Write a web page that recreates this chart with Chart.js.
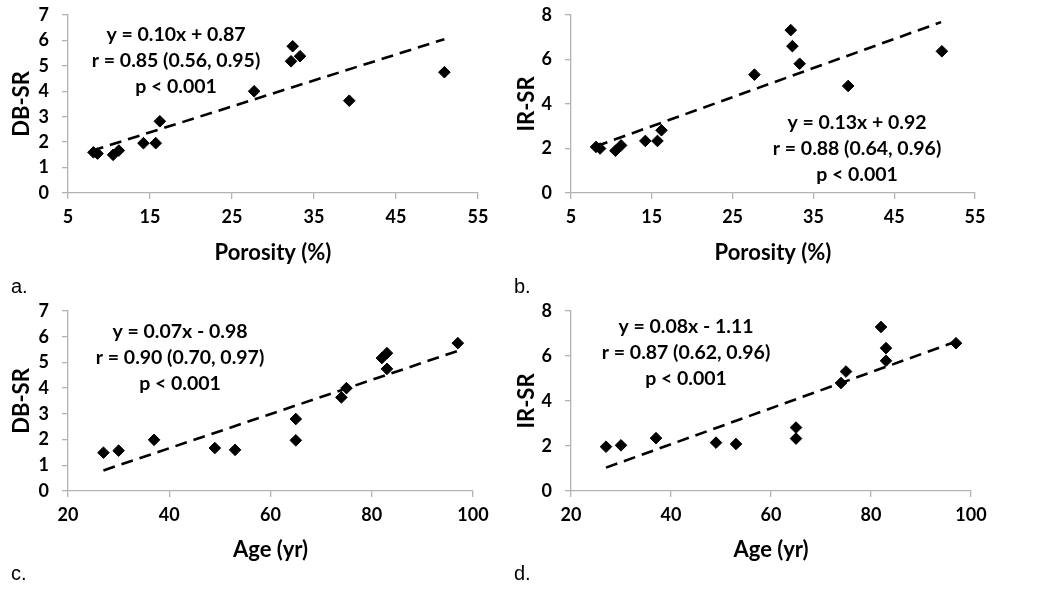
<!DOCTYPE html>
<html>
<head>
<meta charset="utf-8">
<script src="https://cdn.jsdelivr.net/npm/chart.js@4/dist/chart.umd.min.js"></script>
<style>
  html, body { margin: 0; padding: 0; background: #fff; width: 1050px; height: 597px; overflow: hidden; }
  .panel { position: absolute; }
  .lab { position: absolute; font-family: "Liberation Sans Narrow", "Liberation Sans", sans-serif; font-size: 20px; color: #000; }
</style>
</head>
<body>
<canvas id="ca" class="panel" style="left:0px;top:-15px;"></canvas>
<canvas id="cb" class="panel" style="left:505px;top:-15px;"></canvas>
<canvas id="cc" class="panel" style="left:0px;top:280px;"></canvas>
<canvas id="cd" class="panel" style="left:505px;top:280px;"></canvas>
<div class="lab" style="left:11px;top:275px;">a.</div>
<div class="lab" style="left:514px;top:275px;">b.</div>
<div class="lab" style="left:11px;top:562px;">c.</div>
<div class="lab" style="left:514px;top:562px;">d.</div>
<script>
// ---- data ----
const porosity = [8.1, 8.6, 10.5, 11.2, 14.2, 15.7, 16.2, 27.7, 32.2, 32.4, 33.3, 39.3, 50.9];
const dbsrByPorosity = [1.60, 1.55, 1.50, 1.67, 1.96, 1.96, 2.82, 4.00, 5.18, 5.77, 5.38, 3.63, 4.75];
const irsrByPorosity = [2.07, 2.00, 1.90, 2.14, 2.34, 2.34, 2.82, 5.32, 7.32, 6.60, 5.81, 4.81, 6.37];

const ageDB = [27, 30, 37, 49, 53, 65, 65, 74, 75, 82, 83, 83, 97];
const dbsrByAge = [1.49, 1.57, 1.99, 1.67, 1.60, 2.80, 1.97, 3.64, 4.00, 5.17, 5.36, 4.75, 5.75];
const ageIR = [27, 30, 37, 49, 53, 65, 65, 74, 75, 82, 83, 83, 97];
const irsrByAge = [1.97, 2.03, 2.35, 2.15, 2.09, 2.82, 2.33, 4.80, 5.31, 7.29, 6.35, 5.79, 6.57];

// trend line endpoints [x1, x2] and [y1, y2]
const trendAx = [7.9, 50.9], trendAy = [1.66, 6.05];
const trendBx = [8.1, 50.8], trendBy = [2.10, 7.68];
const trendCx = [27, 97],    trendCy = [0.80, 5.45];
const trendDx = [27, 96.5],  trendDy = [1.04, 6.60];

const annA = ["y = 0.10x + 0.87", "r = 0.85 (0.56, 0.95)", "p < 0.001"];
const annB = ["y = 0.13x + 0.92", "r = 0.88 (0.64, 0.96)", "p < 0.001"];
const annC = ["y = 0.07x - 0.98", "r = 0.90 (0.70, 0.97)", "p < 0.001"];
const annD = ["y = 0.08x - 1.11", "r = 0.87 (0.62, 0.96)", "p < 0.001"];

const FONT = "Lato, 'Open Sans', sans-serif";
const AXIS_COLOR = '#b3b3b3';

function pts(xs, ys) { return xs.map((x, i) => ({x: x, y: ys[i]})); }

function makePanel(id, cfg) {
  const canvas = document.getElementById(id);
  canvas.width = cfg.w; canvas.height = cfg.h;
  canvas.style.width = cfg.w + 'px'; canvas.style.height = cfg.h + 'px';
  const annPlugin = {
    id: 'ann' + id,
    afterDatasetsDraw(chart) {
      const ctx = chart.ctx;
      ctx.save();
      ctx.fillStyle = '#000';
      ctx.font = 'bold 19.5px ' + FONT;
      ctx.textAlign = 'center';
      ctx.textBaseline = 'middle';
      cfg.ann.forEach((t, i) => ctx.fillText(t, cfg.annX, cfg.annY + i * 25.7));
      ctx.restore();
    }
  };
  new Chart(canvas, {
    type: 'scatter',
    data: {
      datasets: [
        {
          data: pts(cfg.xs, cfg.ys),
          pointStyle: 'rectRot', pointRadius: 5.8, pointHoverRadius: 5.8,
          backgroundColor: '#000', borderColor: '#000', borderWidth: 1,
          showLine: false, order: 2
        },
        {
          data: pts(cfg.tx, cfg.ty),
          showLine: true, borderColor: '#000', borderWidth: 2.6,
          borderDash: [12, 7], pointRadius: 0, fill: false, order: 1
        }
      ]
    },
    options: {
      responsive: false, animation: false,
      layout: { padding: { left: 0, right: cfg.pr, top: cfg.pt, bottom: 0 } },
      plugins: { legend: { display: false }, tooltip: { enabled: false } },
      scales: {
        x: {
          type: 'linear', min: cfg.xmin, max: cfg.xmax,
          afterFit(s) { s.height = cfg.xh; },
          border: { color: AXIS_COLOR, width: 1.3 },
          grid: { display: true, drawOnChartArea: false, drawTicks: true, tickLength: 6, color: AXIS_COLOR, lineWidth: 1.3 },
          ticks: { stepSize: cfg.xstep, color: '#000', font: { family: FONT, size: 18, weight: 'bold' }, padding: 7, maxRotation: 0 },
          title: { display: true, text: cfg.xtitle, color: '#000', font: { family: FONT, size: 22, weight: 'bold' }, padding: { top: 0, bottom: 4 } }
        },
        y: {
          type: 'linear', min: 0, max: cfg.ymax,
          afterFit(s) { s.width = cfg.yw; },
          border: { color: AXIS_COLOR, width: 1.3 },
          grid: { display: true, drawOnChartArea: false, drawTicks: true, tickLength: 6, color: AXIS_COLOR, lineWidth: 1.3 },
          ticks: { stepSize: cfg.ystep, color: '#000', font: { family: FONT, size: 18, weight: 'bold' }, padding: 13 },
          title: { display: true, text: cfg.ytitle, color: '#000', font: { family: FONT, size: 22, weight: 'bold' }, padding: { top: 9, bottom: 0 } }
        }
      }
    },
    plugins: [annPlugin]
  });
}

makePanel('ca', { w: 500, h: 285, pr: 22, pt: 30, xh: 77, yw: 68,
  xs: porosity, ys: dbsrByPorosity, tx: trendAx, ty: trendAy,
  xmin: 5, xmax: 55, xstep: 10, ymax: 7, ystep: 1,
  xtitle: 'Porosity (%)', ytitle: 'DB-SR', ann: annA, annX: 176, annY: 50 });

makePanel('cb', { w: 500, h: 285, pr: 30, pt: 30, xh: 77, yw: 66,
  xs: porosity, ys: irsrByPorosity, tx: trendBx, ty: trendBy,
  xmin: 5, xmax: 55, xstep: 10, ymax: 8, ystep: 2,
  xtitle: 'Porosity (%)', ytitle: 'IR-SR', ann: annB, annX: 352, annY: 138 });

makePanel('cc', { w: 500, h: 287, pr: 27, pt: 31, xh: 76, yw: 68,
  xs: ageDB, ys: dbsrByAge, tx: trendCx, ty: trendCy,
  xmin: 20, xmax: 100, xstep: 20, ymax: 7, ystep: 1,
  xtitle: 'Age (yr)', ytitle: 'DB-SR', ann: annC, annX: 180, annY: 52 });

makePanel('cd', { w: 500, h: 287, pr: 34, pt: 31, xh: 76, yw: 66,
  xs: ageIR, ys: irsrByAge, tx: trendDx, ty: trendDy,
  xmin: 20, xmax: 100, xstep: 20, ymax: 8, ystep: 2,
  xtitle: 'Age (yr)', ytitle: 'IR-SR', ann: annD, annX: 181, annY: 47 });
</script>
</body>
</html>
